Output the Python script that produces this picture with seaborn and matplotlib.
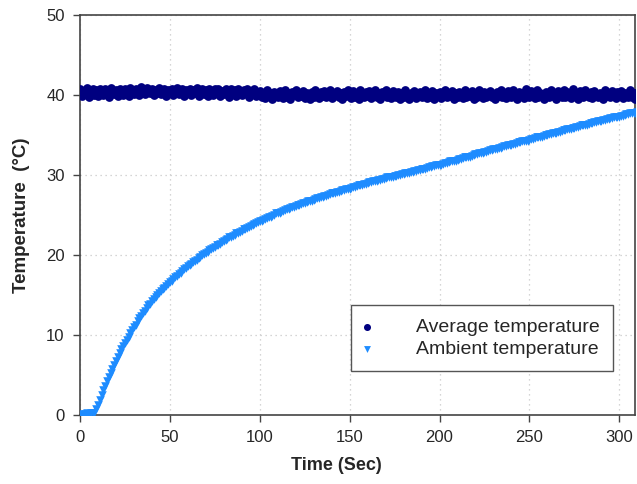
import numpy as np
import pandas as pd
import matplotlib
matplotlib.use("Agg")
import matplotlib.pyplot as plt
import seaborn as sns

# Time axis (seconds), one reading per second
time_sec = np.arange(0, 311, 1)

average_temp = [
    40.8, 39.9, 40.5, 40.1, 40.9, 39.8, 40.4, 40.7, 40.0, 40.6,
    39.9, 40.8, 40.3, 40.0, 40.7, 40.2, 39.8, 40.9, 40.4, 40.1,
    40.6, 39.9, 40.8, 40.3, 40.0, 40.7, 40.5, 39.9, 40.9, 40.2,
    40.1, 40.8, 40.4, 40.0, 41.0, 40.3, 40.1, 40.9, 40.5, 40.2,
    40.8, 40.0, 40.6, 40.3, 40.9, 40.1, 40.5, 40.8, 39.9, 40.6,
    40.2, 40.8, 40.0, 40.5, 40.9, 40.1, 40.4, 40.7, 39.9, 40.6,
    40.3, 40.8, 40.0, 40.6, 40.2, 40.9, 39.9, 40.5, 40.7, 40.1,
    40.6, 39.9, 40.8, 40.3, 40.0, 40.7, 40.2, 40.8, 39.9, 40.5,
    40.1, 40.7, 40.4, 39.8, 40.8, 40.2, 40.6, 39.9, 40.7, 40.3,
    40.0, 40.6, 40.2, 40.8, 39.8, 40.5, 40.1, 40.7, 39.9, 40.4,
    40.5, 39.7, 40.3, 39.6, 40.6, 39.9, 40.2, 39.5, 40.4, 40.0,
    39.7, 40.5, 40.1, 39.6, 40.6, 39.8, 40.3, 39.5, 40.4, 40.0,
    40.6, 39.7, 40.2, 39.9, 40.5, 39.6, 40.3, 40.0, 39.5, 40.4,
    39.8, 40.6, 40.1, 39.6, 40.4, 39.9, 40.5, 39.7, 40.2, 40.6,
    39.6, 40.3, 40.0, 40.5, 39.7, 40.2, 39.5, 40.4, 39.9, 40.6,
    40.1, 39.6, 40.5, 39.8, 40.3, 39.5, 40.6, 40.0, 39.7, 40.4,
    39.9, 40.5, 39.6, 40.2, 40.6, 39.7, 40.3, 39.5, 40.4, 40.0,
    40.6, 39.8, 40.1, 39.6, 40.5, 40.0, 39.7, 40.4, 39.5, 40.2,
    39.8, 40.6, 40.0, 39.5, 40.3, 39.9, 40.5, 39.6, 40.2, 40.4,
    39.7, 40.1, 40.6, 39.6, 40.3, 39.8, 40.5, 39.5, 40.2, 40.0,
    40.4, 39.6, 40.1, 40.6, 39.7, 40.3, 39.9, 40.5, 39.5, 40.2,
    39.8, 40.4, 40.0, 39.6, 40.6, 39.7, 40.2, 39.9, 40.5, 39.5,
    40.3, 39.8, 40.6, 40.0, 39.6, 40.4, 39.7, 40.2, 40.5, 39.8,
    40.1, 39.5, 40.4, 39.9, 40.6, 39.7, 40.3, 39.6, 40.5, 40.0,
    39.8, 40.6, 40.1, 39.5, 40.4, 39.9, 40.2, 39.6, 40.7, 40.0,
    39.7, 40.5, 40.2, 39.6, 40.6, 39.8, 40.3, 40.0, 39.5, 40.4,
    40.1, 39.7, 40.6, 39.9, 40.3, 39.5, 40.5, 40.0, 39.7, 40.6,
    39.8, 40.4, 40.0, 39.6, 40.7, 39.9, 40.2, 39.5, 40.5, 40.1,
    39.7, 40.6, 40.0, 39.8, 40.4, 39.6, 40.5, 40.1, 39.7, 40.3,
    40.0, 39.5, 40.6, 39.9, 40.2, 39.7, 40.5, 40.0, 39.6, 40.4,
    39.9, 40.5, 39.6, 40.3, 40.0, 39.7, 40.6, 39.8, 40.2, 39.5,
    40.3,
]

ambient_temp = [
    0.0, 0.1, 0.0, 0.1, 0.2, 0.1, 0.2, 0.3, 0.3, 0.7,
    1.3, 1.9, 2.5, 3.1, 3.6, 4.2, 4.7, 5.3, 5.8, 6.3,
    6.8, 7.3, 7.7, 8.2, 8.6, 9.0, 9.4, 9.8, 10.2, 10.6,
    11.0, 11.3, 11.7, 12.1, 12.4, 12.7, 13.0, 13.4, 13.7, 13.9,
    14.2, 14.5, 14.8, 15.0, 15.2, 15.5, 15.7, 15.9, 16.1, 16.4,
    16.6, 16.8, 17.0, 17.2, 17.4, 17.6, 17.8, 18.0, 18.2, 18.4,
    18.6, 18.7, 18.9, 19.1, 19.3, 19.4, 19.6, 19.8, 20.0, 20.1,
    20.3, 20.4, 20.6, 20.7, 20.9, 21.0, 21.2, 21.3, 21.4, 21.6,
    21.7, 21.9, 22.0, 22.2, 22.3, 22.4, 22.5, 22.7, 22.8, 22.9,
    23.0, 23.2, 23.3, 23.4, 23.5, 23.6, 23.7, 23.9, 24.0, 24.1,
    24.2, 24.3, 24.4, 24.5, 24.6, 24.7, 24.8, 24.9, 25.0, 25.2,
    25.3, 25.3, 25.4, 25.5, 25.6, 25.7, 25.8, 25.9, 26.0, 26.0,
    26.1, 26.2, 26.3, 26.4, 26.5, 26.5, 26.6, 26.7, 26.8, 26.8,
    26.9, 27.0, 27.1, 27.1, 27.2, 27.3, 27.4, 27.4, 27.5, 27.6,
    27.7, 27.7, 27.8, 27.9, 27.9, 28.0, 28.1, 28.1, 28.2, 28.3,
    28.3, 28.4, 28.5, 28.5, 28.6, 28.7, 28.8, 28.8, 28.9, 28.9,
    29.0, 29.1, 29.1, 29.2, 29.3, 29.3, 29.4, 29.4, 29.5, 29.5,
    29.6, 29.7, 29.7, 29.8, 29.8, 29.9, 29.9, 30.0, 30.0, 30.1,
    30.1, 30.2, 30.2, 30.3, 30.4, 30.4, 30.5, 30.5, 30.6, 30.6,
    30.7, 30.7, 30.8, 30.9, 31.0, 31.0, 31.1, 31.1, 31.2, 31.2,
    31.3, 31.3, 31.4, 31.5, 31.5, 31.6, 31.7, 31.7, 31.8, 31.8,
    31.9, 32.0, 32.0, 32.1, 32.2, 32.2, 32.3, 32.3, 32.4, 32.5,
    32.6, 32.6, 32.7, 32.7, 32.8, 32.9, 32.9, 33.0, 33.1, 33.1,
    33.2, 33.2, 33.3, 33.4, 33.4, 33.5, 33.6, 33.6, 33.7, 33.7,
    33.8, 33.9, 33.9, 34.0, 34.1, 34.1, 34.2, 34.2, 34.3, 34.3,
    34.4, 34.5, 34.5, 34.6, 34.7, 34.7, 34.8, 34.8, 34.9, 35.0,
    35.0, 35.1, 35.1, 35.2, 35.3, 35.3, 35.4, 35.4, 35.5, 35.6,
    35.6, 35.7, 35.7, 35.8, 35.9, 35.9, 36.0, 36.0, 36.1, 36.2,
    36.2, 36.3, 36.3, 36.4, 36.5, 36.5, 36.6, 36.6, 36.7, 36.8,
    36.8, 36.9, 36.9, 37.0, 37.0, 37.1, 37.1, 37.2, 37.2, 37.3,
    37.3, 37.4, 37.4, 37.5, 37.6, 37.6, 37.7, 37.7, 37.8, 37.8,
    37.9,
]

x_ticks = [0, 50, 100, 150, 200, 250, 300]
y_ticks = [0, 10, 20, 30, 40, 50]

sns.set_style("white")
plt.rcParams['font.family'] = ['Liberation Sans', 'DejaVu Sans']

fig = plt.figure(figsize=(6.37, 4.84), dpi=100)
ax = fig.add_axes([0.1256, 0.1426, 0.8720, 0.8264])

df_avg = pd.DataFrame({"t": time_sec, "T": average_temp})
df_amb = pd.DataFrame({"t": time_sec, "T": ambient_temp})

sns.scatterplot(data=df_avg, x="t", y="T", ax=ax, color="#000080", marker="o",
                s=40, linewidth=0, label="Average temperature", zorder=3)
sns.scatterplot(data=df_amb, x="t", y="T", ax=ax, color="#1e8cff", marker="v",
                s=38, linewidth=0, label="Ambient temperature", zorder=4)

ax.set_xlim(0, 309)
ax.set_ylim(0, 50)
ax.set_xticks(x_ticks)
ax.set_yticks(y_ticks)
ax.tick_params(axis='both', direction='out', length=5, width=1, color='#444444',
               labelsize=12, pad=6, left=True, bottom=True)
ax.grid(True, linestyle=(0, (1, 3)), color='#c8c8c8', linewidth=0.9)
ax.set_axisbelow(True)
for sp in ax.spines.values():
    sp.set_color('#444444')
    sp.set_linewidth(1.2)

ax.set_xlabel("Time (Sec)", fontsize=13, fontweight='bold')
ax.set_ylabel("Temperature  (°C)", fontsize=13.5, fontweight='bold')
ax.xaxis.set_label_coords(0.462, -0.105)
ax.yaxis.set_label_coords(-0.09, 0.5)

leg = ax.legend(loc='upper left', bbox_to_anchor=(0.4874, 0.275),
                fontsize=14, frameon=True, fancybox=False,
                edgecolor='#555555', framealpha=1, handlelength=0.3,
                handletextpad=2.35, borderpad=0.7, labelspacing=0.2,
                markerscale=0.8, borderaxespad=0)
leg.get_frame().set_linewidth(1.0)

fig.savefig("out.png", dpi=100)
